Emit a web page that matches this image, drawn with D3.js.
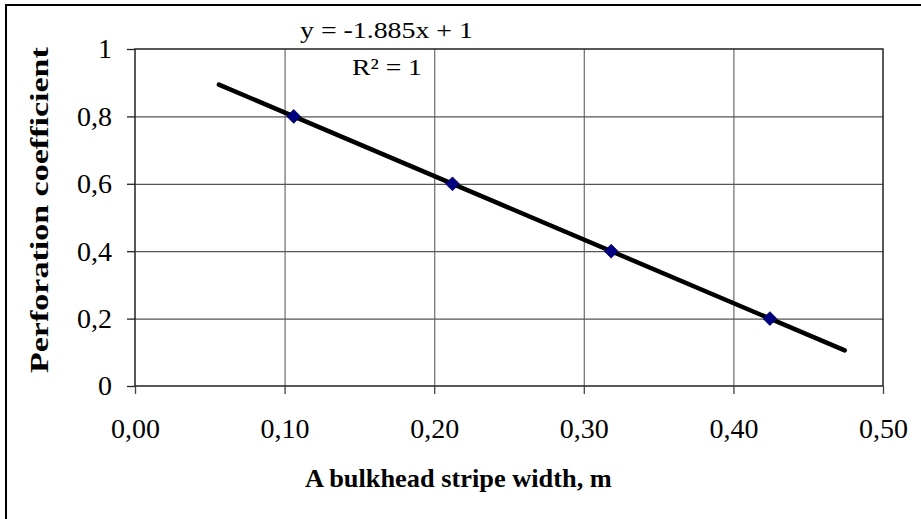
<!DOCTYPE html>
<html>
<head>
<meta charset="utf-8">
<title>Perforation coefficient</title>
<script src="https://d3js.org/d3.v7.min.js"></script>
<style>
  body { margin: 0; background: #fff; }
  svg { display: block; font-family: "Liberation Serif", "Times New Roman", serif; }
</style>
</head>
<body>
<div id="chart"></div>
<script>
  // data
  const stripeWidth = [0.1061, 0.2122, 0.3183, 0.4244];
  const perforation = [0.8, 0.6, 0.4, 0.2];
  const xTicks = [0, 0.1, 0.2, 0.3, 0.4, 0.5];
  const yTicks = [0, 0.2, 0.4, 0.6, 0.8, 1];
  const slope = -1.885, intercept = 1;
  const trendRange = [0.0561, 0.4744];

  const width = 921, height = 519;
  const plot = { left: 135, right: 883, top: 49, bottom: 386 };

  const svg = d3.select("#chart").append("svg")
    .attr("width", width)
    .attr("height", height);

  // outer chart frame (cut off right and bottom in the original)
  svg.append("rect")
    .attr("x", 6).attr("y", 5)
    .attr("width", 930).attr("height", 530)
    .attr("fill", "none")
    .attr("stroke", "#000")
    .attr("stroke-width", 2);

  const x = d3.scaleLinear().domain([0, 0.5]).range([plot.left, plot.right]);
  const y = d3.scaleLinear().domain([0, 1]).range([plot.bottom, plot.top]);

  // gridlines
  svg.append("g")
    .attr("transform", `translate(0,${plot.bottom})`)
    .call(d3.axisBottom(x).tickValues(xTicks.slice(1, -1)).tickSize(-(plot.bottom - plot.top)).tickFormat(""))
    .call(g => g.select(".domain").remove())
    .call(g => g.selectAll("line").attr("stroke", "#777").attr("stroke-width", 1.3));

  svg.append("g")
    .attr("transform", `translate(${plot.left},0)`)
    .call(d3.axisLeft(y).tickValues(yTicks.slice(1, -1)).tickSize(-(plot.right - plot.left)).tickFormat(""))
    .call(g => g.select(".domain").remove())
    .call(g => g.selectAll("line").attr("stroke", "#555").attr("stroke-width", 1.3));

  // plot area border
  svg.append("rect")
    .attr("x", plot.left).attr("y", plot.top)
    .attr("width", plot.right - plot.left).attr("height", plot.bottom - plot.top)
    .attr("fill", "none")
    .attr("stroke", "#222")
    .attr("stroke-width", 1.5);

  const fmtX = d => d3.format(".2f")(d).replace(".", ",");
  const fmtY = d => String(d).replace(".", ",");

  // x axis
  const xAxis = svg.append("g")
    .attr("transform", `translate(0,${plot.bottom})`)
    .call(d3.axisBottom(x).tickValues(xTicks).tickSize(8).tickPadding(24).tickFormat(fmtX));
  xAxis.select(".domain").remove();
  xAxis.selectAll("line").attr("stroke", "#444").attr("stroke-width", 1.3);
  xAxis.selectAll("text")
    .attr("font-family", "Liberation Serif")
    .attr("font-size", 28)
    .attr("fill", "#000");

  // y axis
  const yAxis = svg.append("g")
    .attr("transform", `translate(${plot.left},0)`)
    .call(d3.axisLeft(y).tickValues(yTicks).tickSize(8).tickPadding(15).tickFormat(fmtY));
  yAxis.select(".domain").remove();
  yAxis.selectAll("line").attr("stroke", "#222").attr("stroke-width", 1.3);
  yAxis.selectAll("text")
    .attr("font-family", "Liberation Serif")
    .attr("font-size", 28)
    .attr("fill", "#000");

  // linear trendline
  svg.append("line")
    .attr("x1", x(trendRange[0])).attr("y1", y(slope * trendRange[0] + intercept))
    .attr("x2", x(trendRange[1])).attr("y2", y(slope * trendRange[1] + intercept))
    .attr("stroke", "#000")
    .attr("stroke-width", 4.5)
    .attr("stroke-linecap", "round");

  // markers
  svg.append("g")
    .selectAll("path")
    .data(stripeWidth)
    .join("path")
    .attr("d", d3.symbol(d3.symbolSquare, 95))
    .attr("transform", (d, i) => `translate(${x(d)},${y(perforation[i])}) rotate(45)`)
    .attr("fill", "#000080")
    .attr("stroke", "#000060")
    .attr("stroke-width", 0.8);

  // text stretched along its own direction to a target length (the original is scaled unevenly)
  function stretched(tx, ty, rot, len, size, weight, str) {
    const g = svg.append("g").attr("transform", `translate(${tx},${ty}) rotate(${rot})`);
    const t = g.append("text")
      .attr("font-size", size)
      .attr("font-weight", weight)
      .text(str);
    const natural = t.node().getComputedTextLength();
    t.attr("transform", `scale(${len / natural},1)`);
  }

  // trendline equation
  stretched(300, 38, 0, 173, 24, "normal", "y = -1.885x + 1");
  stretched(352, 75, 0, 70, 24, "normal", "R² = 1");

  // axis titles
  stretched(305, 487, 0, 307, 26, "bold", "A bulkhead stripe width, m");
  stretched(48, 373, -90, 326, 26, "bold", "Perforation coefficient");
</script>
</body>
</html>
